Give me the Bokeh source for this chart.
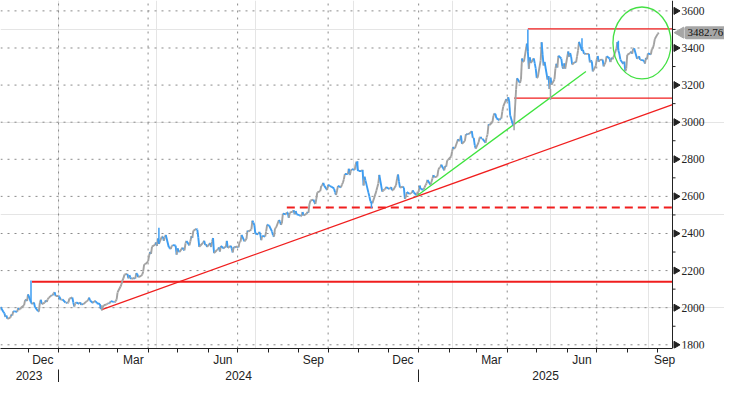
import numpy as np
import pandas as pd
from bokeh.plotting import figure
from bokeh.models import ColumnDataSource, LinearAxis, FixedTicker, Range1d
from bokeh.embed import file_html
from bokeh.resources import INLINE

# ---------------- data (gold spot, daily closes, one row per week Mon..Fri) -------------
first_monday = "2023-10-30"
weekly_closes = [
    [1994, 1983, 1982, 1985, 2004],
    [1977, 1970, 1950, 1958, 1940],
    [1946, 1963, 1958, 1981, 1980],
    [1978, 1998, 1990, 1992, 2001],
    [2013, 2041, 2044, 2036, 2072],
    [2029, 2019, 2025, 2028, 2004],
    [1982, 1979, 2027, 2043, 2019],
    [2027, 2040, 2031, 2045, 2053],
    [2068, 2067, 2078, 2083, 2063],
    [2063, 2059, 2042, 2043, 2045],
    [2028, 2029, 2024, 2028, 2049],
    [2055, 2028, 2006, 2023, 2029],
    [2021, 2029, 2015, 2020, 2018],
    [2032, 2037, 2039, 2054, 2039],
    [2025, 2035, 2035, 2034, 2024],
    [2020, 1992, 1992, 2004, 2013],
    [2018, 2023, 2025, 2024, 2035],
    [2031, 2030, 2034, 2044, 2083],
    [2114, 2127, 2148, 2159, 2179],
    [2182, 2158, 2175, 2162, 2155],
    [2160, 2157, 2186, 2181, 2165],
    [2172, 2178, 2194, 2233, 2233],
    [2250, 2280, 2300, 2290, 2329],
    [2339, 2352, 2333, 2373, 2344],
    [2383, 2383, 2361, 2379, 2392],
    [2327, 2322, 2316, 2332, 2337],
    [2335, 2286, 2320, 2302, 2301],
    [2324, 2314, 2309, 2346, 2360],
    [2336, 2358, 2385, 2376, 2415],
    [2425, 2421, 2379, 2328, 2334],
    [2351, 2361, 2338, 2342, 2327],
    [2349, 2327, 2355, 2376, 2294],
    [2311, 2316, 2325, 2303, 2333],
    [2319, 2329, 2327, 2360, 2322],
    [2334, 2320, 2298, 2327, 2326],
    [2330, 2325, 2356, 2356, 2392],
    [2358, 2364, 2371, 2415, 2411],
    [2422, 2469, 2459, 2445, 2400],
    [2396, 2409, 2397, 2364, 2387],
    [2384, 2411, 2448, 2446, 2443],
    [2410, 2390, 2383, 2427, 2431],
    [2472, 2465, 2447, 2456, 2507],
    [2504, 2514, 2512, 2485, 2512],
    [2518, 2525, 2504, 2521, 2503],
    [2499, 2493, 2495, 2516, 2497],
    [2506, 2516, 2512, 2558, 2578],
    [2582, 2569, 2559, 2586, 2622],
    [2628, 2657, 2657, 2673, 2658],
    [2634, 2663, 2659, 2656, 2653],
    [2643, 2622, 2608, 2630, 2657],
    [2649, 2663, 2674, 2693, 2721],
    [2720, 2749, 2715, 2736, 2747],
    [2743, 2774, 2787, 2744, 2737],
    [2736, 2743, 2659, 2706, 2685],
    [2619, 2598, 2573, 2565, 2563],
    [2612, 2631, 2650, 2670, 2716],
    [2626, 2632, 2637, 2638, 2651],
    [2640, 2643, 2650, 2633, 2633],
    [2660, 2694, 2718, 2680, 2648],
    [2652, 2646, 2587, 2595, 2623],
    [2613, 2618, 2618, 2633, 2621],
    [2606, 2625, 2625, 2658, 2640],
    [2636, 2649, 2661, 2670, 2689],
    [2663, 2677, 2697, 2715, 2703],
    [2708, 2743, 2755, 2755, 2771],
    [2740, 2764, 2760, 2794, 2798],
    [2815, 2842, 2866, 2856, 2861],
    [2908, 2898, 2904, 2928, 2883],
    [2899, 2935, 2933, 2939, 2936],
    [2952, 2915, 2916, 2876, 2858],
    [2893, 2918, 2920, 2910, 2910],
    [2889, 2917, 2934, 2989, 2984],
    [3001, 3034, 3047, 3044, 3022],
    [3011, 3020, 3019, 3057, 3085],
    [3124, 3113, 3134, 3114, 3037],
    [2983, 2983, 3082, 3176, 3237],
    [3211, 3231, 3343, 3327, 3327],
    [3424, 3381, 3288, 3349, 3319],
    [3344, 3317, 3289, 3239, 3240],
    [3333, 3431, 3363, 3306, 3325],
    [3230, 3249, 3179, 3240, 3202],
    [3230, 3289, 3315, 3295, 3358],
    [3343, 3301, 3288, 3317, 3289],
    [3381, 3353, 3373, 3352, 3311],
    [3325, 3322, 3355, 3387, 3433],
    [3385, 3390, 3369, 3369, 3368],
    [3368, 3323, 3333, 3328, 3274],
    [3303, 3338, 3357, 3326, 3336],
    [3337, 3301, 3313, 3324, 3355],
    [3344, 3324, 3348, 3339, 3350],
    [3397, 3431, 3387, 3368, 3337],
    [3314, 3326, 3275, 3289, 3363],
    [3373, 3381, 3369, 3396, 3398],
    [3342, 3348, 3355, 3336, 3336],
    [3332, 3316, 3347, 3339, 3371],
    [3365, 3393, 3397, 3417, 3448],
    [3476, 3482.76],
]

# intraday extremes of notable sessions
spike_dates = ["2023-12-04", "2024-02-14", "2024-04-12", "2024-10-31", "2024-11-14",
               "2025-04-08", "2025-04-22", "2025-05-15", "2025-06-16", "2025-07-23"]
spike_lows = [2029, 1984, 2344, 2737, 2537, 2957, 3381, 3120, 3385, 3387]
spike_highs = [2146, 2013, 2431, 2790, 2573, 2983, 3500, 3179, 3452, 3439]

last_price = 3482.76

# annotations drawn on the chart
hline_levels = [2140, 2540, 3130, 3503]
hline_starts = ["2023-12-05", "2024-08-20", "2025-04-08", "2025-04-22"]
red_trend_dates = ["2024-02-14", "2025-09-16"]
red_trend_vals = [1990, 3095]
green_trend_dates = ["2024-12-30", "2025-06-20"]
green_trend_vals = [2602, 3273]
ellipse_date = "2025-08-16"
ellipse_days = 59
ellipse_price = 3427
ellipse_span = 388

view_start, view_end = "2023-11-03", "2025-09-16"
y_lo, y_hi = 1780, 3656
y_major = [1800, 2000, 2200, 2400, 2600, 2800, 3000, 3200, 3400, 3600]
y_minor = [1900, 2100, 2300, 2500, 2700, 2900, 3100, 3300, 3500]
month_names = {12: "Dec", 3: "Mar", 6: "Jun", 9: "Sep"}

# ---------------- layout constants ----------------
W, H = 724, 382
PLOT_PX = 672               # pixels of the price area; the rest holds the price scale
FONT = "Liberation Sans"
FS = "11.5px"
FS_X = "12px"
INK = "#222222"

ORIGIN = pd.Timestamp("2024-01-01")
def dx(d):
    return float((pd.Timestamp(d) - ORIGIN).days)

xs, xe = dx(view_start), dx(view_end)
ppd = PLOT_PX / (xe - xs)          # pixels per day
x_right = xs + W / ppd
def px(n):                          # n screen pixels expressed in days
    return n / ppd

m0 = pd.Timestamp(first_monday)
dates, closes = [], []
for i, wk in enumerate(weekly_closes):
    for j, cl in enumerate(wk):
        dates.append(m0 + pd.Timedelta(days=7 * i + j))
        closes.append(cl)
x = np.array([(d - ORIGIN).days for d in dates], dtype=float)
c = np.array(closes, dtype=float)

UP = "#a2a2a2"
DOWN = "#3d9df2"
seg_col = [UP if c[k + 1] >= c[k] else DOWN for k in range(len(c) - 1)]
src = ColumnDataSource(dict(x0=x[:-1], x1=x[1:], y0=c[:-1], y1=c[1:], col=seg_col))

sx = [dx(d) for d in spike_dates]
sp_col = []
for d in spike_dates:
    k = dates.index(pd.Timestamp(d))
    sp_col.append(UP if k > 0 and c[k] >= c[k - 1] else DOWN)
spike_src = ColumnDataSource(dict(x=sx, lo=spike_lows, hi=spike_highs, col=sp_col))

# ---------------- figure ----------------
p = figure(width=W, height=H, output_backend="svg", toolbar_location=None,
           x_range=Range1d(xs, x_right), y_range=Range1d(y_lo, y_hi),
           x_axis_location=None, y_axis_location=None,
           min_border_left=0, min_border_top=0, min_border_right=0, min_border_bottom=0,
           outline_line_color=None, background_fill_color="white")

# dotted grid, limited to the price area
GRID = "#8a8a8a"
p.segment(x0=[xs] * len(y_major), x1=[xe] * len(y_major), y0=y_major, y1=y_major,
          line_color=GRID, line_dash="2 5", line_width=1)
quarter_starts = [dx(d) for d in pd.date_range("2023-10-01", "2025-10-01", freq="QS")]
quarter_starts = [q for q in quarter_starts if xs < q < xe]
p.segment(x0=quarter_starts, x1=quarter_starts, y0=[y_lo] * len(quarter_starts),
          y1=[y_hi] * len(quarter_starts), line_color=GRID, line_dash="2 5", line_width=1)

# annotation lines (under price)
RED = "#f01e1e"
p.line([dx(d) for d in red_trend_dates], red_trend_vals, line_color=RED, line_width=1.3)
for lvl, st in zip(hline_levels, hline_starts):
    if lvl == 2540:
        p.line([dx(st), xe], [lvl, lvl], line_color=RED, line_width=2, line_dash="8 5")
    elif lvl == 2140:
        p.line([dx(st), xe], [lvl, lvl], line_color=RED, line_width=2)
    else:
        p.line([dx(st), xe], [lvl, lvl], line_color=RED, line_width=1.2)
p.line([dx(d) for d in green_trend_dates], green_trend_vals, line_color="#3ee33e", line_width=1.3)

# price path
p.segment("x0", "y0", "x1", "y1", source=src, line_color="col", line_width=1.9)
p.segment("x", "lo", "x", "hi", source=spike_src, line_color="col", line_width=1.5)

# ellipse highlight
p.ellipse(x=[dx(ellipse_date)], y=[ellipse_price], width=[ellipse_days], height=[ellipse_span],
          fill_alpha=0, line_color="#44e044", line_width=1.3)

# ---------------- price scale (right) ----------------
p.segment(x0=[xe], x1=[xe], y0=[y_lo], y1=[y_hi], line_color=INK, line_width=1)
p.scatter(x=[xe + px(3.5)] * len(y_major), y=y_major, marker="triangle", angle=-np.pi / 2,
          size=7, fill_color=INK, line_color=INK)
p.segment(x0=[xe] * len(y_minor), x1=[xe + px(3)] * len(y_minor), y0=y_minor, y1=y_minor,
          line_color=INK, line_width=1)
p.text(x=[xe] * len(y_major), y=y_major, text=[str(v) for v in y_major], x_offset=9,
       text_baseline="middle", text_align="left", text_font=FONT, text_font_size=FS,
       text_color=INK)

# last-price tag
TAG = "#a6a6a6"
p.scatter(x=[xe + px(8)], y=[last_price], marker="triangle", angle=np.pi / 2, size=11,
          fill_color=TAG, line_color=TAG)
p.text(x=[xe], y=[last_price], text=[f"{last_price:.2f}"], x_offset=12,
       text_baseline="middle", text_align="left", text_font=FONT, text_font_size="11px",
       text_color="#111111", background_fill_color=TAG, padding=3, border_radius=2)

# ---------------- time axis (below) ----------------
month_starts = [dx(d) for d in pd.date_range("2023-11-01", "2025-09-01", freq="MS")]
mpos, mover = [], {}
for d in pd.date_range("2023-11-01", "2025-09-01", freq="MS"):
    if d.month in month_names:
        a = max(dx(d), xs)
        b = min(dx(d + pd.offsets.MonthBegin(1)), xe)
        t = int(round((a + b) / 2))
        mpos.append(t)
        mover[t] = month_names[d.month]
xax1 = LinearAxis(ticker=FixedTicker(ticks=mpos, minor_ticks=month_starts),
                  major_label_overrides=mover, bounds=(xs, xe),
                  major_tick_out=0, major_tick_in=0, minor_tick_out=4, minor_tick_in=0,
                  minor_tick_line_color=INK,
                  major_label_standoff=0, axis_line_color=INK,
                  major_label_text_font=FONT, major_label_text_font_size=FS_X,
                  major_label_text_color=INK)
p.add_layout(xax1, "below")

ypos, yover, ybounds = [], {}, []
for yr in [2023, 2024, 2025]:
    a = max(dx(f"{yr}-01-01"), xs)
    b = min(dx(f"{yr + 1}-01-01"), xe)
    t = int(round((a + b) / 2))
    ypos.append(t)
    yover[t] = str(yr)
    if xs < dx(f"{yr}-01-01") < xe:
        ybounds.append(dx(f"{yr}-01-01"))
xax2 = LinearAxis(ticker=FixedTicker(ticks=ypos, minor_ticks=ybounds),
                  major_label_overrides=yover, bounds=(xs, xe),
                  major_tick_out=0, major_tick_in=0, minor_tick_out=15, minor_tick_in=0,
                  minor_tick_line_color=INK,
                  major_label_standoff=-14, axis_line_color=None,
                  major_label_text_font=FONT, major_label_text_font_size=FS_X,
                  major_label_text_color=INK)
p.add_layout(xax2, "below")

open("out.html", "w").write(file_html(p, INLINE))
